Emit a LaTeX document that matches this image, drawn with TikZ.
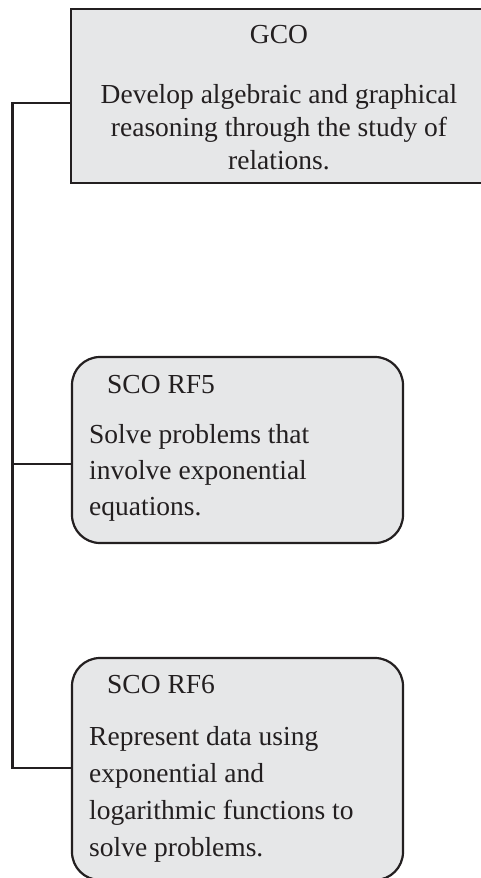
\documentclass[tikz,border=0pt]{standalone}
\usepackage{fontspec}
\setmainfont{Liberation Serif}
\definecolor{boxfill}{HTML}{E6E7E8}
\definecolor{ink}{HTML}{231F20}
\begin{document}
\begin{tikzpicture}[x=1pt,y=1pt,
  gcobox/.style={draw=ink,fill=boxfill,line width=2.2pt,rectangle,inner sep=0,minimum width=416pt,minimum height=174pt},
  scobox/.style={draw=ink,fill=boxfill,line width=2.2pt,rectangle,rounded corners=28pt,inner sep=0,minimum width=331pt},
  txt/.style={inner sep=0,font=\fontsize{27.5}{33}\selectfont,text=ink},
  conn/.style={draw=ink,line width=2.2pt}]
\useasboundingbox (0,0) rectangle (480,-878);
% boxes
\node[gcobox] (gco) at (279,-96) {};
\node[scobox,minimum height=186pt] (rf5) at (237.5,-450) {};
\node[scobox,minimum height=222pt] (rf6) at (237.5,-769) {};
% texts
\node[txt,anchor=base] (t0) at (279,-43) {GCO};
\node[txt,anchor=base] (t1) at (279,-103) {Develop algebraic and graphical};
\node[txt,anchor=base] (t2) at (279,-136) {reasoning through the study of};
\node[txt,anchor=base] (t3) at (279,-169) {relations.};
\node[txt,anchor=base west] (h5) at (107,-393) {SCO RF5};
\node[txt,anchor=base west] (a1) at (89,-443) {Solve problems that};
\node[txt,anchor=base west] (a2) at (89,-479) {involve exponential};
\node[txt,anchor=base west] (a3) at (89,-515) {equations.};
\node[txt,anchor=base west] (h6) at (107,-693) {SCO RF6};
\node[txt,anchor=base west] (b1) at (89,-745) {Represent data using};
\node[txt,anchor=base west] (b2) at (89,-782) {exponential and};
\node[txt,anchor=base west] (b3) at (89,-819) {logarithmic functions to};
\node[txt,anchor=base west] (b4) at (89,-856) {solve problems.};
% connectors
\coordinate (ctop) at (12.5,-103);
\coordinate (cmid) at (12.5,-464);
\coordinate (cbot) at (12.5,-768);
\draw[conn] (gco.west |- ctop) -- (ctop) -- (cbot) -- (rf6.west |- cbot);
\draw[conn] (cmid) -- (rf5.west |- cmid);
\end{tikzpicture}
\end{document}
